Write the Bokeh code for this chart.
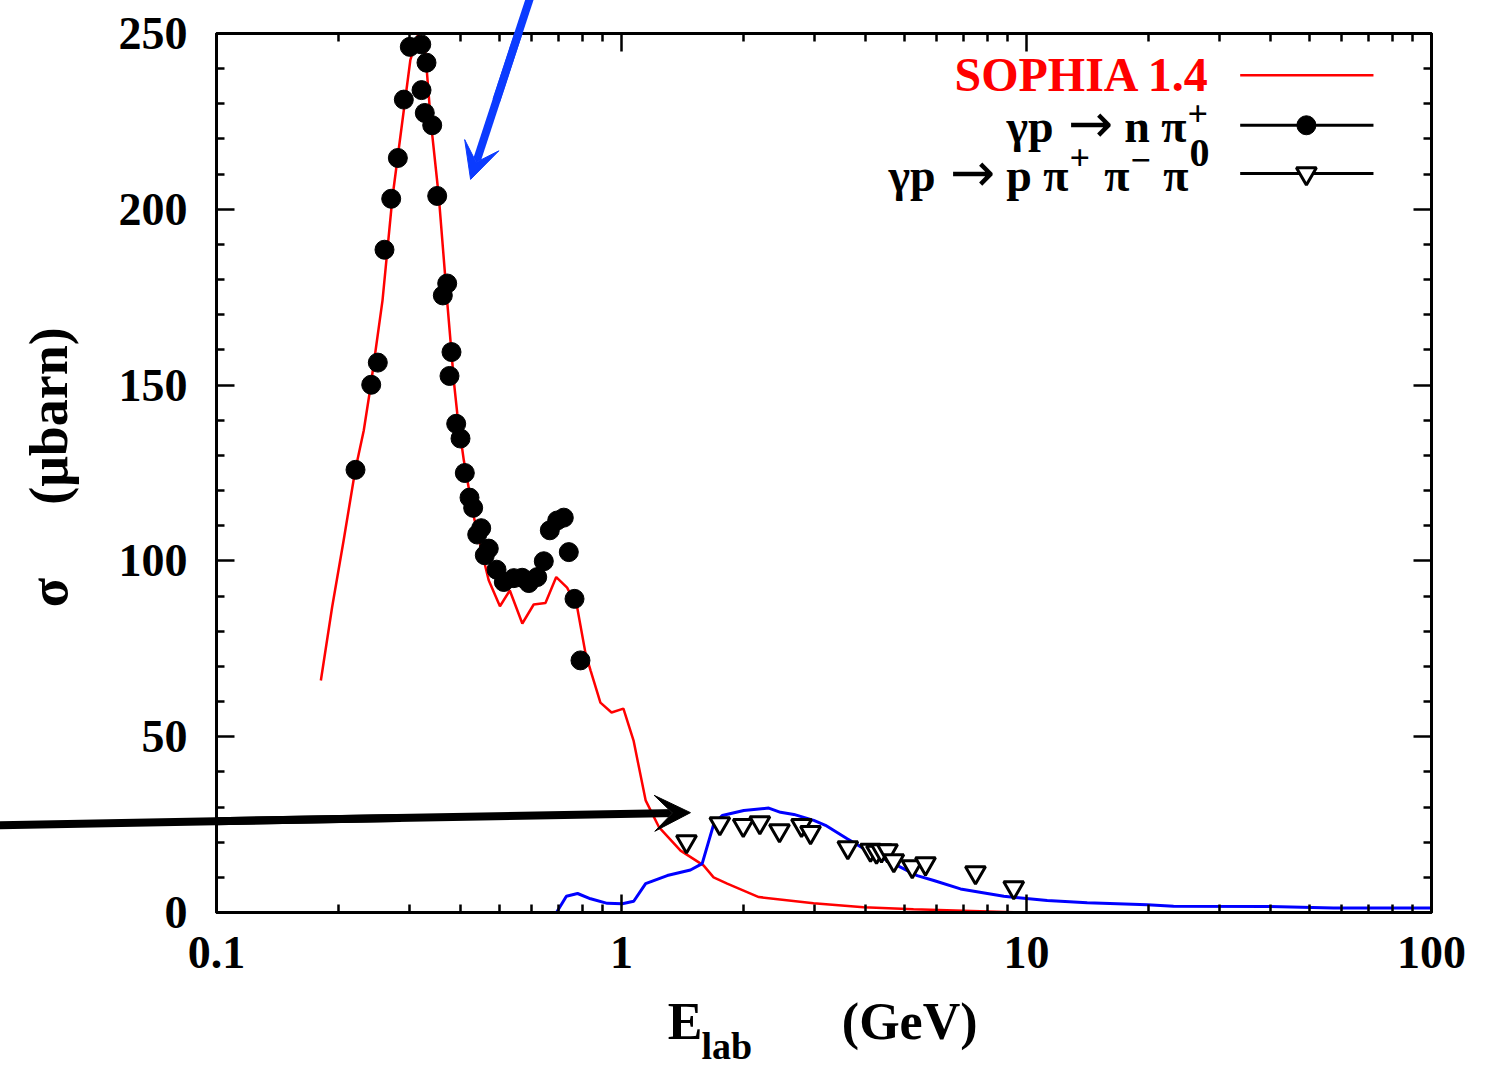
from bokeh.plotting import figure
from bokeh.models import (Range1d, FixedTicker, LogAxis, LinearAxis, Label, Arrow, VeeHead)
from bokeh.core.properties import value
from bokeh.embed import file_html
from bokeh.resources import INLINE

# ---------------- data ----------------
# SOPHIA 1.4 model, gamma p -> n pi+
sophia_e = [0.181, 0.193, 0.206, 0.220, 0.231, 0.240, 0.257, 0.272, 0.301, 0.315,
            0.328, 0.338, 0.354, 0.371, 0.386, 0.393, 0.408, 0.432, 0.453, 0.470,
            0.501, 0.530, 0.569, 0.607, 0.649, 0.690, 0.734, 0.777, 0.815, 0.839,
            0.887, 0.945, 1.011, 1.071, 1.147, 1.237, 1.399, 1.594, 1.688, 1.824,
            2.183, 2.98, 3.96, 5.26, 9.29, 100.0]
sophia_sigma = [66.0, 86.9, 105.8, 125.7, 137.1, 149.4, 174.1, 203.5, 242.4, 250.0,
                244.4, 225.3, 203.5, 174.1, 150.5, 142.0, 128.6, 112.5, 102.1, 94.5,
                87.1, 91.6, 82.2, 87.6, 88.0, 95.4, 92.4, 86.9, 73.7, 68.8,
                59.7, 56.9, 58.0, 48.9, 31.9, 24.3, 17.6, 13.4, 10.0, 8.2,
                4.4, 2.6, 1.5, 0.9, 0.1, 0.1]

# SOPHIA model, gamma p -> p pi+ pi- pi0 (blue)
model3_e = [0.181, 0.691, 0.731, 0.779, 0.839, 0.922, 1.004, 1.072, 1.147, 1.297,
            1.480, 1.582, 1.690, 1.773, 2.004, 2.310, 2.470, 2.664, 2.984, 3.189,
            3.608, 4.044, 4.529, 5.372, 5.903, 6.871, 8.79, 11.25, 14.12, 19.86,
            23.07, 39.3, 57.3, 100.0]
model3_sigma = [0.0, 0.0, 4.6, 5.4, 3.9, 2.6, 2.5, 3.2, 8.2, 10.5,
                12.1, 13.9, 25.2, 27.6, 29.0, 29.7, 28.5, 27.9, 26.2, 24.8,
                21.0, 17.6, 14.8, 10.5, 9.1, 6.7, 4.6, 3.4, 2.8, 2.2,
                1.8, 1.7, 1.3, 1.3]

# data: gamma p -> n pi+
npi_e = [0.2204, 0.2410, 0.2502, 0.2599, 0.2700, 0.2804, 0.2901, 0.3001, 0.3203, 0.3208,
         0.3300, 0.3268, 0.3409, 0.3507, 0.3712, 0.3621, 0.3804, 0.3761, 0.3907, 0.4004,
         0.4103, 0.4214, 0.4303, 0.4504, 0.4403, 0.4702, 0.4597, 0.4914, 0.5122, 0.5422,
         0.5686, 0.5904, 0.6193, 0.6429, 0.6653, 0.6938, 0.7203, 0.7411, 0.7656, 0.7920]
npi_sigma = [125.9, 150.1, 156.4, 188.5, 203.0, 214.6, 231.2, 246.2, 246.9, 233.9,
             241.7, 227.4, 223.9, 203.8, 178.9, 175.5, 159.4, 152.6, 139.0, 134.8,
             125.0, 118.0, 115.1, 109.3, 107.5, 103.5, 101.6, 97.5, 94.0, 95.1,
             95.2, 93.7, 95.4, 99.9, 108.7, 111.5, 112.3, 102.5, 89.2, 71.7]

# data: gamma p -> p pi+ pi- pi0
p3pi_e = [1.447, 1.749, 1.998, 2.196, 2.455, 2.783, 2.929, 3.621, 4.119, 4.262,
          4.385, 4.537, 4.702, 5.222, 5.631, 7.482, 9.30]
p3pi_sigma = [20.2, 25.3, 24.8, 25.6, 23.3, 24.8, 22.8, 18.5, 17.8, 17.2,
              17.6, 17.6, 14.8, 13.1, 13.9, 11.4, 7.1]

x_major = [0.1, 1, 10, 100]
y_major = [0, 50, 100, 150, 200, 250]

# ---------------- figure ----------------
FONT = "Liberation Serif"
RED = "#ff0000"
BLUE = "#0000ff"
ARROW_BLUE = "#0b3bff"
SHIFT = 0.37  # baseline correction (fraction of font size)
PX_PER_UNIT = 3.515  # vertical pixels per y unit, only used for the baseline correction

p = figure(x_axis_type="log", x_range=Range1d(0.1, 100), y_range=Range1d(0, 250),
           frame_width=1215, frame_height=879,
           min_border_left=216, min_border_right=60, min_border_top=33, min_border_bottom=154,
           output_backend="svg", toolbar_location=None,
           background_fill_color="white", border_fill_color="white")
p.xgrid.visible = False
p.ygrid.visible = False
p.outline_line_color = "black"
p.outline_line_width = 3

x_minor = [k * 10.0 ** e for e in (-1, 0, 1) for k in range(2, 10)]
y_minor = [v for v in range(0, 251, 10) if v % 50 != 0]


def style_axis(ax, show_labels):
    ax.axis_line_width = 3
    ax.major_tick_in = 18
    ax.major_tick_out = 0
    ax.minor_tick_in = 8
    ax.minor_tick_out = 0
    ax.major_tick_line_width = 2.5
    ax.minor_tick_line_width = 2.5
    if show_labels:
        ax.major_label_text_font = FONT
        ax.major_label_text_font_style = "bold"
        ax.major_label_text_font_size = "46px"
        ax.major_label_text_color = "black"
    else:
        ax.major_label_text_font_size = "2px"
        ax.major_label_text_alpha = 0
        ax.major_label_standoff = 0


p.xaxis[0].ticker = FixedTicker(ticks=x_major, minor_ticks=x_minor)
p.xaxis[0].major_label_overrides = {0.1: "0.1", 1: "1", 10: "10", 100: "100"}
style_axis(p.xaxis[0], True)
p.xaxis[0].major_label_standoff = 24
p.yaxis[0].ticker = FixedTicker(ticks=y_major, minor_ticks=y_minor)
style_axis(p.yaxis[0], True)
p.yaxis[0].major_label_standoff = 29

top = LogAxis(ticker=FixedTicker(ticks=x_major, minor_ticks=x_minor))
style_axis(top, False)
p.add_layout(top, "above")
right = LinearAxis(ticker=FixedTicker(ticks=y_major, minor_ticks=y_minor))
style_axis(right, False)
p.add_layout(right, "right")

# curves
p.line(sophia_e, sophia_sigma, line_color=RED, line_width=2.5)
p.line(model3_e, model3_sigma, line_color=BLUE, line_width=3)

# data points
p.scatter(npi_e, npi_sigma, marker="circle", size=19, fill_color="black", line_color="black")
p.scatter(p3pi_e, p3pi_sigma, marker="inverted_triangle", size=20,
          fill_color="white", line_color="black", line_width=3)

# ---------------- legend (drawn by hand, gnuplot style) ----------------
leg_x0, leg_x1, leg_xm = 33.7, 71.9, 49.1
leg_y = [238.1, 223.9, 210.2]
p.line([leg_x0, leg_x1], [leg_y[0], leg_y[0]], line_color=RED, line_width=2.5)
p.line([leg_x0, leg_x1], [leg_y[1], leg_y[1]], line_color="black", line_width=3)
p.line([leg_x0, leg_x1], [leg_y[2], leg_y[2]], line_color="black", line_width=3)
p.scatter([leg_xm], [leg_y[1]], marker="circle", size=19, fill_color="black", line_color="black")
p.scatter([leg_xm], [leg_y[2]], marker="inverted_triangle", size=20,
          fill_color="white", line_color="black", line_width=3)


def lab(x, y, text, size, align="left", color="black", font=FONT, style="bold"):
    p.add_layout(Label(x=x, y=y + SHIFT * size, x_units="screen", y_units="screen", text=text,
                       text_font=font, text_font_style=style, text_font_size=f"{size}px",
                       text_color=color, text_align=align, text_baseline="alphabetic"))


lab(994, 820, "SOPHIA 1.4", 48, align="right", color=RED)
# line 2:  gamma p -> n pi+
lab(837, 769, "γp", 46, align="right")
lab(874, 769, "→", 54, align="center", font="DejaVu Sans", style="normal")
lab(970, 769, "n π", 46, align="right")
lab(971, 785, "+", 36)
# line 3:  gamma p -> p pi+ pi- pi0
lab(719, 720, "γp", 46, align="right")
lab(756, 720, "→", 54, align="center", font="DejaVu Sans", style="normal")
lab(852, 720, "p π", 46, align="right")
lab(853, 741, "+", 36)
lab(913, 720, "π", 46, align="right")
lab(914, 739, "−", 36)
lab(972, 720, "π", 46, align="right")
lab(973, 745, "0", 40)


# ---------------- axis titles (text glyphs drawn outside the frame) ----------------
def title_text(x, y, text, size, angle=0.0, align="left"):
    p.text(x=[x], y=[y], text=[text], angle=angle, text_font=value(FONT),
           text_font_style="bold", text_font_size=value(f"{size}px"),
           text_color="black", text_align=align, text_baseline="alphabetic",
           level="overlay")


title_text(1.300, -36.4 + SHIFT * 52 / PX_PER_UNIT, "E", 52)
title_text(1.575, -42.1 + SHIFT * 38 / PX_PER_UNIT, "lab", 38)
title_text(3.500, -36.4 + SHIFT * 52 / PX_PER_UNIT, "(GeV)", 52)
title_text(0.0385, 141.2, "(μbarn)", 54, angle=1.5708, align="center")
title_text(0.0385, 91.0, "σ", 54, angle=1.5708, align="center")

# ---------------- arrows ----------------
p.add_layout(Arrow(end=VeeHead(size=36, fill_color="black", line_color="black"),
                   x_start=0.0277, y_start=24.8, x_end=1.480, y_end=28.4,
                   line_color="black", line_width=8))
p.add_layout(Arrow(end=VeeHead(size=36, fill_color=ARROW_BLUE, line_color=ARROW_BLUE),
                   x_start=0.603, y_start=262.3, x_end=0.424, y_end=208.5,
                   line_color=ARROW_BLUE, line_width=8))
# shaft parts that run outside the frame
p.segment(x0=[0.0277], y0=[24.8], x1=[0.285], y1=[26.9], line_color="black",
          line_width=8, level="overlay")
p.segment(x0=[0.603], y0=[262.3], x1=[0.491], y1=[231.0], line_color=ARROW_BLUE,
          line_width=8, level="overlay")

open("out.html", "w").write(file_html(p, INLINE))
